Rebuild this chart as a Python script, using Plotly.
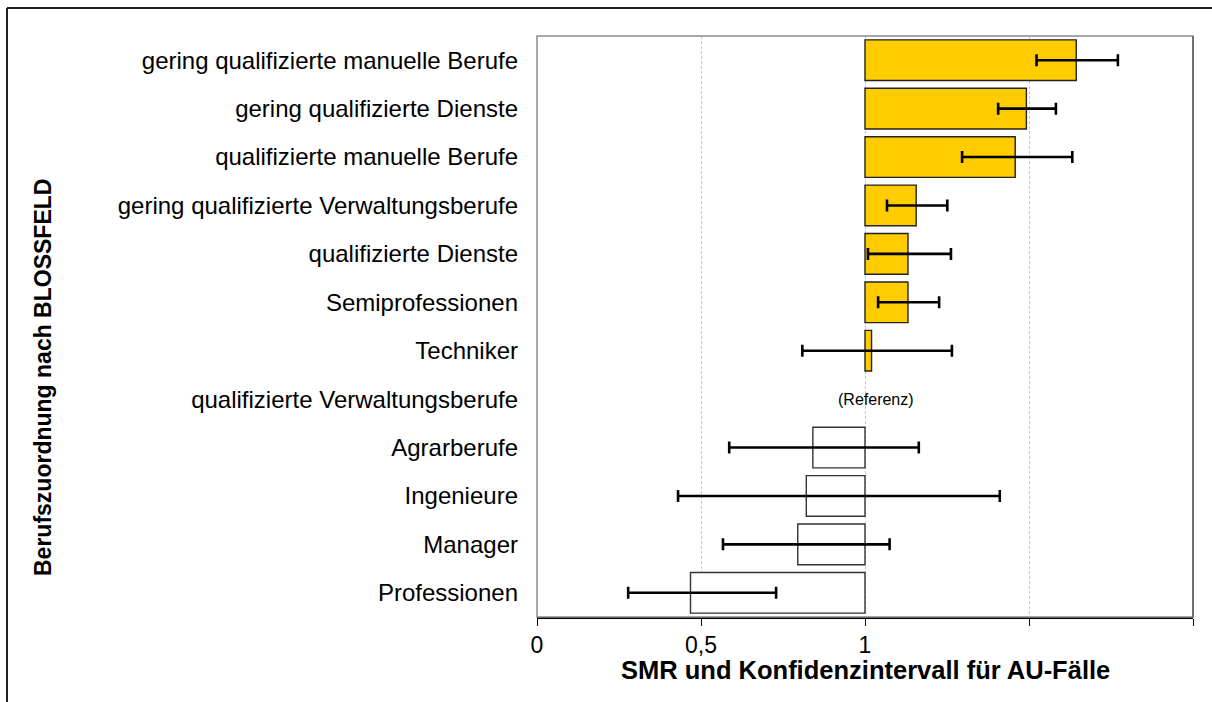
import plotly.graph_objects as go

categories = [
    "gering qualifizierte manuelle Berufe",
    "gering qualifizierte Dienste",
    "qualifizierte manuelle Berufe",
    "gering qualifizierte Verwaltungsberufe",
    "qualifizierte Dienste",
    "Semiprofessionen",
    "Techniker",
    "qualifizierte Verwaltungsberufe",
    "Agrarberufe",
    "Ingenieure",
    "Manager",
    "Professionen",
]
smr = [1.644, 1.492, 1.458, 1.156, 1.131, 1.131, 1.020, None, 0.841, 0.821, 0.795, 0.468]
ci_low = [1.523, 1.406, 1.296, 1.067, 1.009, 1.040, 0.809, None, 0.586, 0.430, 0.567, 0.278]
ci_high = [1.771, 1.582, 1.632, 1.251, 1.262, 1.226, 1.265, None, 1.164, 1.411, 1.075, 0.729]
reference_value = 1.0
reference_label = "(Referenz)"
reference_category = "qualifizierte Verwaltungsberufe"
x_tickvals = [0, 0.5, 1, 1.5, 2]
x_ticktext = ["0", "0,5", "1", "", ""]
x_title = "SMR und Konfidenzintervall für AU-Fälle"
y_title = "Berufszuordnung nach BLOSSFELD"

FONT = "Arial, 'Liberation Sans', sans-serif"

bar_size = [(v - reference_value) if v is not None else None for v in smr]
bar_colors = ["#FFCC00" if (v is not None and v > reference_value) else "#FFFFFF" for v in smr]
bar_line = ["#222222" if (v is not None and v > reference_value) else "#333333" for v in smr]

err_plus = [(hi - v) if hi is not None else 0 for v, hi in zip(smr, ci_high)]
err_minus = [(v - lo) if lo is not None else 0 for v, lo in zip(smr, ci_low)]

fig = go.Figure()
fig.add_trace(go.Bar(
    y=categories, x=bar_size, base=[reference_value] * len(smr), orientation="h",
    marker=dict(color=bar_colors, line=dict(color=bar_line, width=1.4)),
    showlegend=False, hoverinfo="skip",
))
fig.add_trace(go.Scatter(
    y=categories, x=smr, mode="markers",
    marker=dict(size=1, opacity=0),
    error_x=dict(type="data", symmetric=False, array=err_plus, arrayminus=err_minus,
                 color="black", thickness=2.6, width=6),
    showlegend=False, hoverinfo="skip",
))

L, R, T, B = 537, 19, 36, 85
W, H = 1212, 702
pw, ph = W - L - R, H - T - B

fig.update_layout(
    width=W, height=H,
    margin=dict(l=L, r=R, t=T, b=B),
    paper_bgcolor="white", plot_bgcolor="white",
    bargap=0.16,
    font=dict(family=FONT, color="black"),
    xaxis=dict(
        range=[0, 2], tickvals=x_tickvals, ticktext=x_ticktext,
        showgrid=True, gridcolor="#c8c8c8", griddash="3px,2px", gridwidth=1,
        showline=True, linecolor="black", linewidth=1.5,
        ticks="outside", ticklen=7, tickcolor="black", tickwidth=1.2,
        tickfont=dict(size=23, family=FONT, color="black"),
        zeroline=False, fixedrange=True,
    ),
    yaxis=dict(
        range=[len(categories) - 0.5, -0.5], type="category",
        showgrid=False, zeroline=False, ticks="",
        showline=False, ticklabelstandoff=18,
        tickfont=dict(size=24, family=FONT, color="black"),
        fixedrange=True,
    ),
    shapes=[
        dict(type="rect", xref="paper", yref="paper", x0=0, x1=1, y0=0, y1=1,
             line=dict(color="#8a8a8a", width=1.5), layer="above"),
        dict(type="line", xref="paper", yref="paper", x0=1, x1=1, y0=0, y1=1,
             line=dict(color="#707070", width=2), layer="above"),
        dict(type="line", xref="paper", yref="paper",
             x0=(7 - L) / pw, x1=(W + 10 - L) / pw, y0=1 + (T - 8) / ph, y1=1 + (T - 8) / ph,
             line=dict(color="#222222", width=2)),
        dict(type="line", xref="paper", yref="paper",
             x0=(7 - L) / pw, x1=(7 - L) / pw, y0=1 + (T - 8) / ph, y1=-(B + 10) / ph,
             line=dict(color="#222222", width=2)),
    ],
    annotations=[
        dict(text=reference_label, x=1.032, y=reference_category, xref="x", yref="y",
             showarrow=False, font=dict(size=16, family=FONT, color="black")),
        dict(text="<b>" + x_title + "</b>", x=0.5, y=-(670 - (T + ph)) / ph,
             xref="paper", yref="paper", showarrow=False, xanchor="center", yanchor="middle",
             font=dict(size=25.5, family=FONT, color="black")),
        dict(text="<b>" + y_title + "</b>", x=(43 - L) / pw, y=(T + ph - 378) / ph,
             xref="paper", yref="paper", showarrow=False, textangle=-90,
             xanchor="center", yanchor="middle",
             font=dict(size=23, family=FONT, color="black")),
    ],
)

fig.write_html("out.html", config={"displayModeBar": False},
               post_script="document.body.style.margin='0';")
